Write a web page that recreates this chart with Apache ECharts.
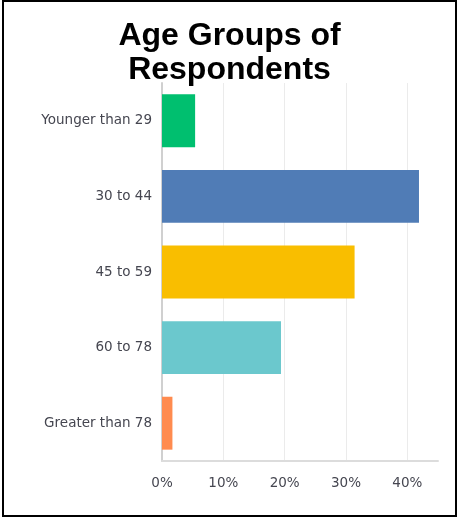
<!DOCTYPE html>
<html><head><meta charset="utf-8">
<script src="https://cdn.jsdelivr.net/npm/echarts@6/dist/echarts.min.js"></script>
<style>html,body{margin:0;padding:0;background:#fff}#c{width:459px;height:518px}</style>
</head><body><div id="c"></div>
<script>
const categories = ['Younger than 29', '30 to 44', '45 to 59', '60 to 78', 'Greater than 78'];
const values = [5.4, 41.9, 31.4, 19.4, 1.7];
const barColors = ['#00BF6F', '#507CB6', '#F9BE00', '#6BC8CD', '#FF8B4F'];
const tickLabels = ['0%', '10%', '20%', '30%', '40%'];

const chart = echarts.init(document.getElementById('c'), null, {renderer: 'canvas'});
chart.setOption({
  animation: false,
  backgroundColor: '#fff',
  title: {
    text: 'Age Groups of\nRespondents',
    left: 'center', top: 14,
    textStyle: {fontFamily: 'Liberation Sans, Arial, sans-serif', fontWeight: 'bold', fontSize: 32, lineHeight: 34, color: '#000'}
  },
  graphic: [{type: 'rect', shape: {x: 3, y: 1, width: 453, height: 515}, style: {fill: 'none', stroke: '#000', lineWidth: 2}, silent: true}],
  grid: {left: 162, right: 21, top: 83, bottom: 57, containLabel: false},
  xAxis: {
    type: 'value', min: 0, max: 45, interval: 10,
    axisLine: {show: true, lineStyle: {color: '#dcdcdc', width: 2}},
    axisTick: {show: false},
    splitLine: {show: true, lineStyle: {color: ['#ebebeb', '#ebebeb', '#ebebeb', '#ebebeb', '#ebebeb', 'rgba(0,0,0,0)'], width: 1}},
    axisLabel: {
      showMaxLabel: false, margin: 15,
      formatter: v => { const i = Math.round(v / 10); return (v % 10 === 0 && i < tickLabels.length) ? tickLabels[i] : ''; },
      color: '#454650', fontFamily: 'DejaVu Sans, sans-serif', fontSize: 13.5
    }
  },
  yAxis: {
    type: 'category', data: categories, inverse: true,
    axisLine: {show: true, lineStyle: {color: '#d0d0d0', width: 2}},
    axisTick: {show: false},
    axisLabel: {margin: 10, color: '#454650', fontFamily: 'DejaVu Sans, sans-serif', fontSize: 13.5}
  },
  series: [{
    type: 'bar',
    data: values.map((v, i) => ({value: v, itemStyle: {color: barColors[i]}})),
    barCategoryGap: '30%'
  }]
});
</script></body></html>
